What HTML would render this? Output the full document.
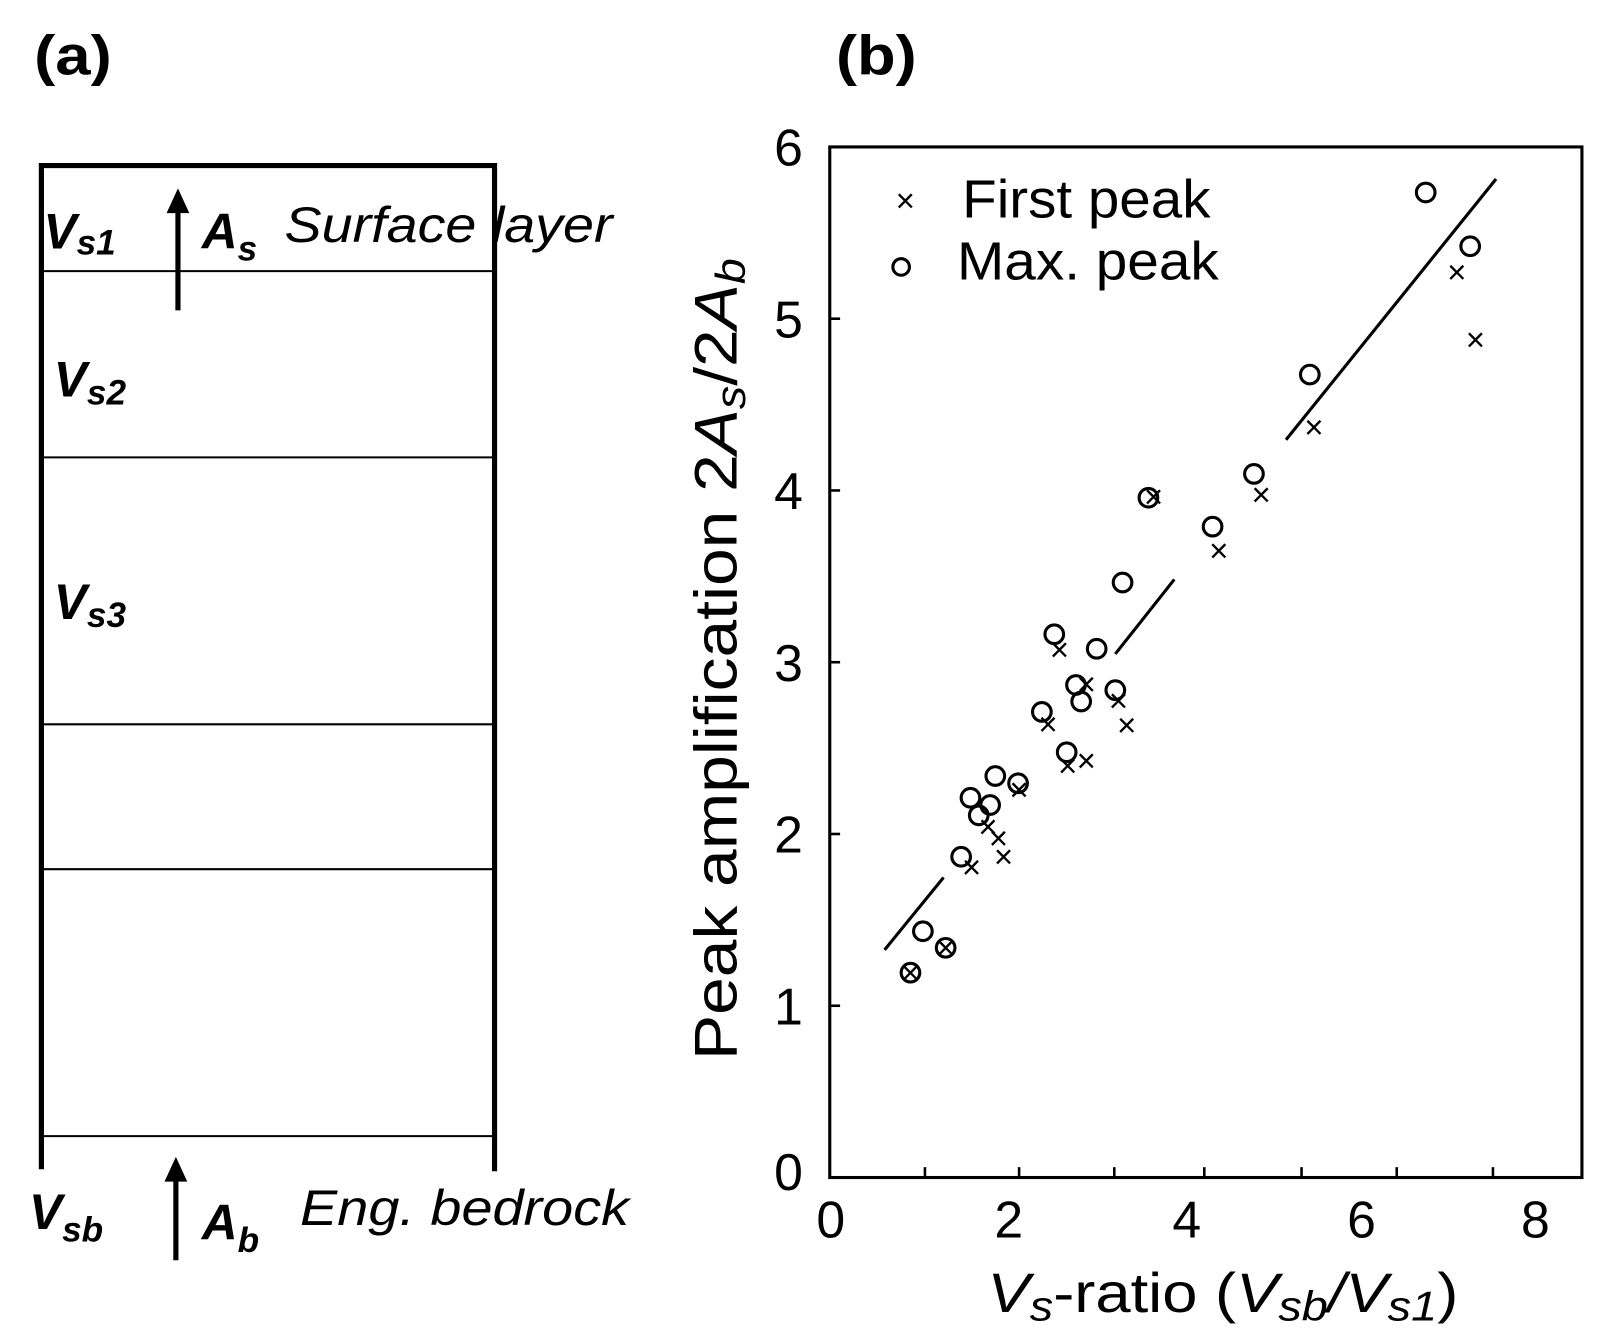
<!DOCTYPE html>
<html><head><style>html,body{margin:0;padding:0;background:#fff}svg{display:block}</style></head>
<body>
<svg width="1614" height="1341" viewBox="0 0 1560 1296" preserveAspectRatio="none" xmlns="http://www.w3.org/2000/svg" font-family="Liberation Sans, sans-serif">
<rect width="1560" height="1296" fill="#fff"/>
<!-- panel a -->
<text x="33" y="72" font-size="54" font-weight="bold" textLength="75" lengthAdjust="spacingAndGlyphs">(a)</text>
<g stroke="#000" fill="none">
<path d="M40 1130 V160 H478 V1132" stroke-width="5"/>
<g stroke-width="2"><line x1="40" y1="262" x2="478" y2="262"/><line x1="40" y1="442" x2="478" y2="442"/><line x1="40" y1="700" x2="478" y2="700"/><line x1="40" y1="840" x2="478" y2="840"/><line x1="40" y1="1098" x2="478" y2="1098"/></g>
<line x1="172" y1="300" x2="172" y2="200" stroke-width="5"/>
<line x1="170" y1="1218" x2="170" y2="1134" stroke-width="5"/>
</g>
<path d="M172 182 L161 206 L183 206Z M170 1118 L159 1142 L181 1142Z" fill="#000"/>
<g font-weight="bold" font-style="italic" font-size="48">
<text x="42" y="240">V<tspan font-size="34" dy="6">s1</tspan></text>
<text x="52" y="383">V<tspan font-size="34" dy="8">s2</tspan></text>
<text x="52" y="598">V<tspan font-size="34" dy="8">s3</tspan></text>
<text x="28" y="1188">V<tspan font-size="34" dy="12">sb</tspan></text>
<text x="195" y="240">A<tspan font-size="34" dy="12">s</tspan></text>
<text x="195" y="1198">A<tspan font-size="34" dy="12">b</tspan></text>
</g>
<text x="275" y="234" font-size="48" font-style="italic" textLength="317" lengthAdjust="spacingAndGlyphs">Surface layer</text>
<text x="290" y="1184" font-size="48" font-style="italic" textLength="318" lengthAdjust="spacingAndGlyphs">Eng. bedrock</text>
<!-- panel b -->
<text x="808" y="72" font-size="54" font-weight="bold" textLength="78" lengthAdjust="spacingAndGlyphs">(b)</text>
<rect x="802" y="142" width="727" height="996" fill="none" stroke="#000" stroke-width="3"/>
<g stroke="#000" stroke-width="2.5">
<line x1="802" y1="308" x2="812" y2="308"/><line x1="802" y1="474" x2="812" y2="474"/><line x1="802" y1="640" x2="812" y2="640"/><line x1="802" y1="806" x2="812" y2="806"/><line x1="802" y1="972" x2="812" y2="972"/>
<line x1="894" y1="1138" x2="894" y2="1128"/><line x1="985" y1="1138" x2="985" y2="1128"/><line x1="1077" y1="1138" x2="1077" y2="1128"/><line x1="1164" y1="1138" x2="1164" y2="1128"/><line x1="1258" y1="1138" x2="1258" y2="1128"/><line x1="1350" y1="1138" x2="1350" y2="1128"/><line x1="1443" y1="1138" x2="1443" y2="1128"/>
</g>
<g font-size="50" text-anchor="end">
<text x="776" y="160">6</text><text x="776" y="326">5</text><text x="776" y="492">4</text><text x="776" y="658">3</text><text x="776" y="824">2</text><text x="776" y="990">1</text><text x="776" y="1150">0</text>
</g>
<g font-size="50" text-anchor="middle">
<text x="803" y="1196">0</text><text x="975" y="1196">2</text><text x="1147" y="1196">4</text><text x="1316" y="1196">6</text><text x="1484" y="1196">8</text>
</g>
<text font-size="58" transform="translate(712,637) rotate(-90)" text-anchor="middle" textLength="775" lengthAdjust="spacingAndGlyphs">Peak amplification  2<tspan font-style="italic">A<tspan font-size="40" dy="8">s</tspan></tspan><tspan dy="-8">/2</tspan><tspan font-style="italic">A<tspan font-size="40" dy="8">b</tspan></tspan></text>
<text x="1182" y="1268" font-size="54" text-anchor="middle" textLength="455" lengthAdjust="spacingAndGlyphs"><tspan font-style="italic">V<tspan font-size="40" dy="8">s</tspan></tspan><tspan dy="-8">-ratio  (</tspan><tspan font-style="italic">V<tspan font-size="40" dy="8">sb</tspan><tspan dy="-8">/V</tspan><tspan font-size="40" dy="8">s1</tspan></tspan><tspan dy="-8">)</tspan></text>
<text x="930" y="210" font-size="52" textLength="240" lengthAdjust="spacingAndGlyphs">First peak</text>
<text x="925" y="270" font-size="52" textLength="253" lengthAdjust="spacingAndGlyphs">Max. peak</text>
<g stroke="#000" stroke-width="3">
<line x1="855" y1="918" x2="912" y2="848"/><line x1="1078" y1="632" x2="1135" y2="560"/><line x1="1243" y1="425" x2="1446" y2="173"/>
</g>
<g fill="none" stroke="#000" stroke-width="3">
<circle cx="871" cy="258" r="8"/>
<circle cx="1378" cy="186" r="9"/><circle cx="1421" cy="238" r="9"/><circle cx="1266" cy="362" r="9"/><circle cx="1212" cy="458" r="9"/><circle cx="1110" cy="481" r="9"/><circle cx="1172" cy="509" r="9"/><circle cx="1085" cy="563" r="9"/><circle cx="1019" cy="613" r="9"/><circle cx="1060" cy="627" r="9"/><circle cx="1040" cy="662" r="9"/><circle cx="1078" cy="667" r="9"/><circle cx="1045" cy="678" r="9"/><circle cx="1007" cy="688" r="9"/><circle cx="1031" cy="727" r="9"/><circle cx="962" cy="750" r="9"/><circle cx="984" cy="757" r="9"/><circle cx="938" cy="771" r="9"/><circle cx="957" cy="778" r="9"/><circle cx="946" cy="788" r="9"/><circle cx="929" cy="828" r="9"/><circle cx="892" cy="900" r="9"/><circle cx="914" cy="916" r="9"/><circle cx="880" cy="940" r="9"/>
</g>
<g fill="#000" font-size="32" text-anchor="middle">
<text x="875" y="205">×</text>
<text x="1408" y="274">×</text><text x="1426" y="339">×</text><text x="1270" y="424">×</text><text x="1219" y="489">×</text><text x="1178" y="543">×</text><text x="1115" y="491">×</text><text x="1024" y="639">×</text><text x="1050" y="672">×</text><text x="1081" y="688">×</text><text x="1089" y="712">×</text><text x="1013" y="711">×</text><text x="1032" y="751">×</text><text x="1050" y="746">×</text><text x="985" y="774">×</text><text x="955" y="810">×</text><text x="965" y="821">×</text><text x="970" y="839">×</text><text x="939" y="849">×</text><text x="880" y="951">×</text><text x="914" y="927">×</text>
</g>
</svg>
</body></html>
